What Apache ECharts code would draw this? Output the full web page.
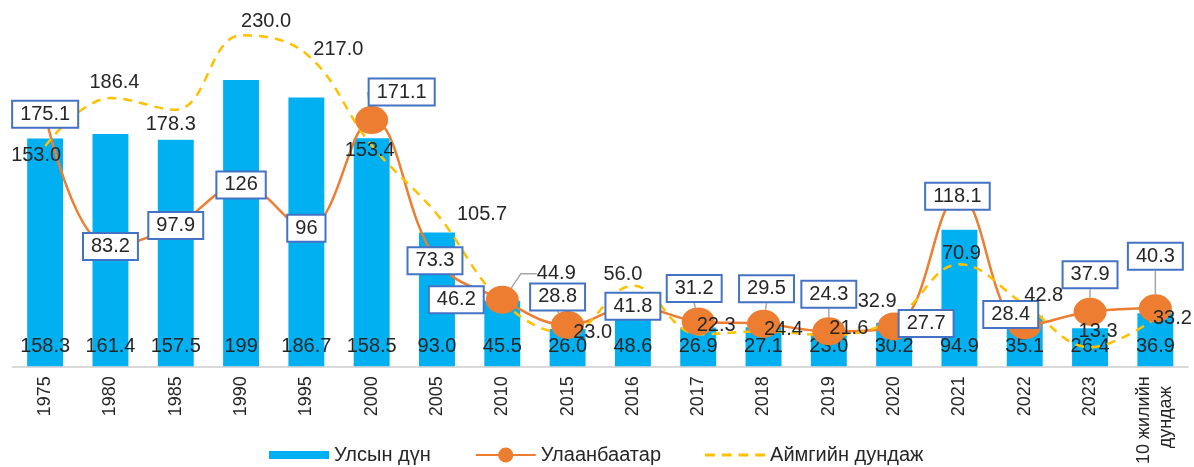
<!DOCTYPE html>
<html><head><meta charset="utf-8">
<script src="https://cdn.jsdelivr.net/npm/echarts@6/dist/echarts.min.js"></script>
<style>html,body{margin:0;padding:0;background:#fff}#c{width:1194px;height:467px}</style>
</head><body><div id="c"></div>
<script>
// ---- data ----
const categories = ['1975','1980','1985','1990','1995','2000','2005','2010','2015','2016','2017','2018','2019','2020','2021','2022','2023','10 жилийн\nдундаж  '];
const nationalTotal = ['158.3','161.4','157.5','199','186.7','158.5','93.0','45.5','26.0','48.6','26.9','27.1','23.0','30.2','94.9','35.1','26.4','36.9'];
const ulaanbaatar = ['175.1','83.2','97.9','126','96','171.1','73.3','46.2','28.8','41.8','31.2','29.5','24.3','27.7','118.1','28.4','37.9','40.3'];
const aimagAvg = ['153.0','186.4','178.3','230.0','217.0','153.4','105.7','44.9','23.0','56.0','22.3','24.4','21.6','32.9','70.9','42.8','13.3','33.2'];
const seriesNames = ['Улсын дүн','Улаанбаатар','Аймгийн дундаж'];

// ---- label placement (layout only) ----
const ubLabelShift = [[0,0],[0,0],[0,0],[0,0],[0,0],[30,-28],[-2,0],[-46,0],[-10,-28],[0,0],[-4,-33],[3,-35],[0,-37],[32,-3],[-2,0],[-14,-11],[0,-37],[0,-52]];
const ubLeader = [5,8,10,11,12,16,17];
const aimagLabelShift = [[-9,9],[4,-16],[-5,15],[25,-14],[32,-5],[-2,5],[45,0],[54,-28],[25,-1],[-10,-11],[18,-9],[20,-2],[20,-7],[-17,-17],[2,-11],[19,-9],[8,-16],[17,0]];
const aimagLeader = [7];

const FONT = 'Liberation Sans, Arial, sans-serif';
const TXT = '#262626';
const raw = p => (typeof p.data === 'object' && p.data !== null) ? p.data.value : p.data;

const chart = echarts.init(document.getElementById('c'), null, {renderer: 'canvas'});
chart.setOption({
  animation: false,
  textStyle: {fontFamily: FONT},
  grid: {left: 12.5, right: 6, top: 6.5, bottom: 95, containLabel: false},
  legend: {
    left: 264, top: 440, itemWidth: 60, itemHeight: 19, itemGap: 44,
    textStyle: {fontSize: 20, color: TXT, fontFamily: FONT, lineHeight: 20},
    data: [
      {name: seriesNames[0], icon: 'path://M0,0H60V8H0Z'},
      {name: seriesNames[1]},
      {name: seriesNames[2], icon: 'path://M0,0H10V3H0Z M17,0H27V3H17Z M34,0H44V3H34Z M51,0H61V3H51Z'}
    ]
  },
  xAxis: {
    type: 'category', data: categories,
    axisLine: {lineStyle: {color: '#D9D9D9', width: 2}},
    axisTick: {show: false},
    axisLabel: {rotate: 90, fontSize: 18, color: TXT, margin: 10, interval: 0, fontFamily: FONT, lineHeight: 22}
  },
  yAxis: {type: 'value', min: 0, max: 250, show: false, splitLine: {show: false}},
  series: [
    {
      name: seriesNames[0], type: 'bar', data: nationalTotal, barWidth: '55%',
      itemStyle: {color: '#00B0F0'},
      label: {show: true, position: 'insideBottom', distance: 10, color: TXT, fontSize: 20, fontFamily: FONT, formatter: raw}
    },
    {
      name: seriesNames[1], type: 'line', smooth: 0.4,
      data: ulaanbaatar.map((v, i) => ({value: v, labelLine: {show: ubLeader.includes(i)}})),
      symbol: 'circle', symbolSize: [33, 28],
      itemStyle: {color: '#ED7D31'},
      lineStyle: {color: '#ED7D31', width: 2.5},
      label: {
        show: true, position: 'inside', formatter: raw,
        color: TXT, fontSize: 20, fontFamily: FONT, lineHeight: 21,
        backgroundColor: '#fff', borderColor: '#4472C4', borderWidth: 2, padding: [2, 7],
        textBorderWidth: 0
      },
      labelLine: {show: false, lineStyle: {color: '#A6A6A6', width: 1.5}},
      labelLayout: p => ({dx: ubLabelShift[p.dataIndex][0], dy: ubLabelShift[p.dataIndex][1]})
    },
    {
      name: seriesNames[2], type: 'line', smooth: 0.4,
      data: aimagAvg.map((v, i) => ({value: v, labelLine: {show: aimagLeader.includes(i), length2: 16}})),
      symbol: 'circle', symbolSize: 0.1,
      itemStyle: {color: '#FFC000'},
      lineStyle: {color: '#FFC000', width: 2.5, type: [9, 7]},
      label: {show: true, position: 'inside', formatter: raw, color: TXT, fontSize: 20, fontFamily: FONT, textBorderWidth: 0},
      labelLine: {show: false, lineStyle: {color: '#A6A6A6', width: 1.5}},
      labelLayout: p => ({dx: aimagLabelShift[p.dataIndex][0], dy: aimagLabelShift[p.dataIndex][1]})
    }
  ]
});
</script>
</body></html>
